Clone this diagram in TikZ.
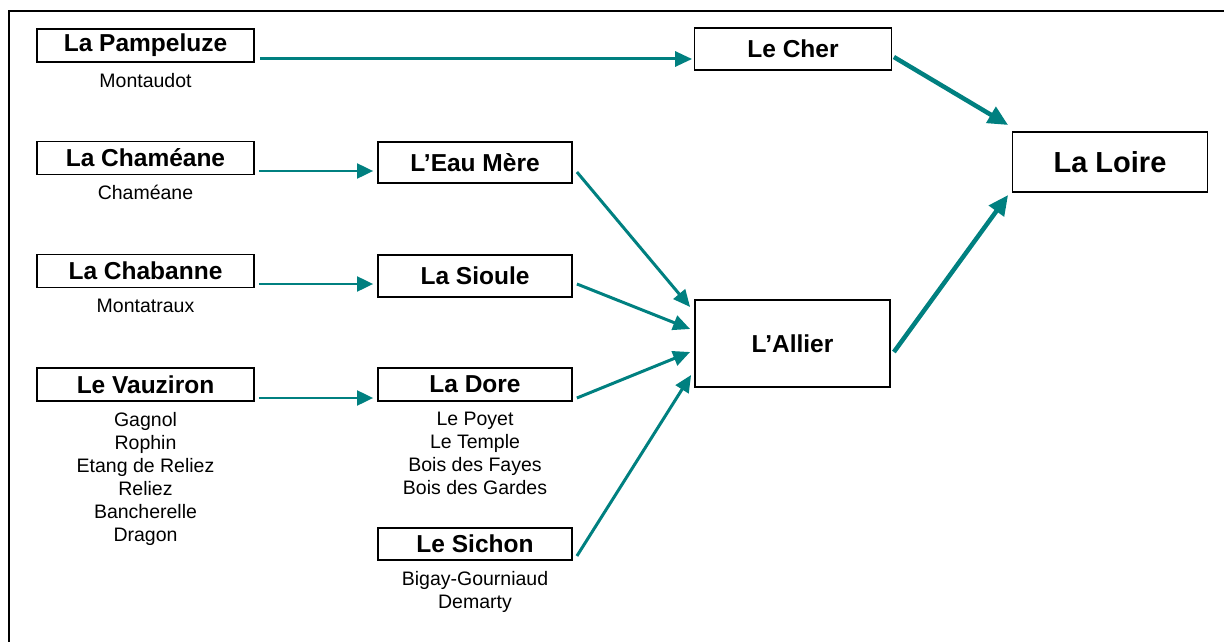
\documentclass[tikz,border=0pt]{standalone}
\usepackage{fontspec}
\setmainfont{Liberation Sans}
\usetikzlibrary{arrows.meta,positioning}
\definecolor{RiverTeal}{HTML}{008080}
\definecolor{RiverInk}{HTML}{000000}

\begin{document}
\begin{tikzpicture}[x=1pt,y=-1pt,
  river/.style={rectangle,draw=RiverInk,line width=1.8pt,fill=white,inner sep=0pt,font=\fontsize{24.5}{28}\selectfont\bfseries},
  site/.style={align=center,inner sep=0pt,font=\fontsize{19.5}{23}\selectfont},
  flow/.style={-{Triangle[length=16pt,width=15pt]},draw=RiverTeal,line width=2pt},
  bigflow/.style={-{Triangle[length=17pt,width=15pt]},draw=RiverTeal,line width=3pt},
  mainflow/.style={-{Triangle[length=20pt,width=18pt]},draw=RiverTeal,line width=4.5pt}
]
\useasboundingbox (0,0) rectangle (1224,642);
\draw[RiverInk,line width=2.2pt] (8.7,642) -- (8.7,11) -- (1224,11);
% left column
\node[river,minimum width=217pt,minimum height=33pt] (pampeluze) at (145.5,45.5) {La Pampeluze};
\node[river,minimum width=217pt,minimum height=33pt] (chameane) at (145.5,158) {La Chaméane};
\node[river,minimum width=217pt,minimum height=33pt] (chabanne) at (145.5,271) {La Chabanne};
\node[river,minimum width=217pt,minimum height=33pt] (vauziron) at (145.5,384.5) {Le Vauziron};
\node[site,below=10pt of pampeluze] (pampeluzesites) {Montaudot};
\node[site,below=10pt of chameane] (chameanesites) {Chaméane};
\node[site,below=10pt of chabanne] (chabannesites) {Montatraux};
\node[site,below=10pt of vauziron] (vauzironsites) {Gagnol\\Rophin\\Etang de Reliez\\Reliez\\Bancherelle\\Dragon};
% middle column
\node[river,minimum width=194pt,minimum height=41pt] (eaumere) at (475,162.5) {L’Eau Mère};
\node[river,minimum width=194pt,minimum height=42pt] (sioule) at (475,276) {La Sioule};
\node[river,minimum width=194pt,minimum height=33pt] (dore) at (475,384.5) {La Dore};
\node[river,minimum width=194pt,minimum height=32pt] (sichon) at (475,544) {Le Sichon};
\node[site,below=10pt of dore] (doresites) {Le Poyet\\Le Temple\\Bois des Fayes\\Bois des Gardes};
\node[site,below=10pt of sichon] (sichonsites) {Bigay-Gourniaud\\Demarty};
% right part
\node[river,minimum width=197pt,minimum height=42pt] (cher) at (793,49) {Le Cher};
\node[river,minimum width=195pt,minimum height=87pt] (allier) at (792.5,343.5) {L’Allier};
\node[river,minimum width=195pt,minimum height=60pt,font=\fontsize{29}{33}\selectfont\bfseries] (loire) at (1110,162) {La Loire};
% connectors
\draw[bigflow] ([xshift=5pt,yshift=-13.5pt]pampeluze.east) -- ([xshift=-1.5pt,yshift=-10pt]cher.west);
\draw[flow] ([xshift=4pt,yshift=-13pt]chameane.east) -- ([xshift=-4pt,yshift=-8.5pt]eaumere.west);
\draw[flow] ([xshift=4pt,yshift=-13pt]chabanne.east) -- ([xshift=-4pt,yshift=-8pt]sioule.west);
\draw[flow] ([xshift=4pt,yshift=-13.5pt]vauziron.east) -- ([xshift=-4pt,yshift=-13.5pt]dore.west);
\draw[bigflow] ([xshift=4pt,yshift=-9.5pt]eaumere.east) -- ([xshift=-4pt,yshift=36.5pt]allier.west);
\draw[bigflow] ([xshift=4pt,yshift=-8pt]sioule.east) -- ([xshift=-4pt,yshift=14.5pt]allier.west);
\draw[bigflow] ([xshift=4pt,yshift=-13.5pt]dore.east) -- ([xshift=-4pt,yshift=-8.5pt]allier.west);
\draw[bigflow] ([xshift=4pt,yshift=-12pt]sichon.east) -- ([xshift=-3pt,yshift=-31.5pt]allier.west);
\draw[mainflow] ([xshift=1.5pt,yshift=-8pt]cher.east) -- ([xshift=-3.5pt,yshift=37pt]loire.west);
\draw[mainflow] ([xshift=3pt,yshift=-8.5pt]allier.east) -- ([xshift=-3.5pt,yshift=-33pt]loire.west);
\end{tikzpicture}
\end{document}
